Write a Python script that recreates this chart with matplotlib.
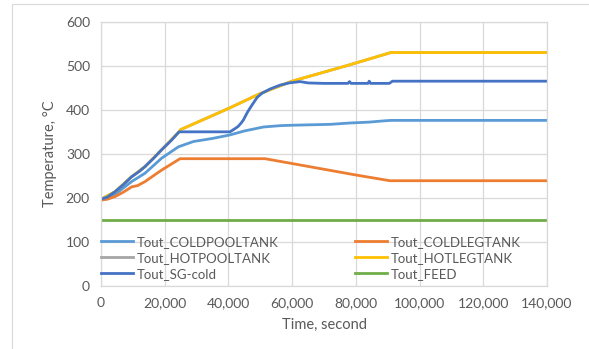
import matplotlib.pyplot as plt
from matplotlib.patches import Rectangle

# time axis in seconds, temperatures in degC
t_coldpool = [0, 4400, 9600, 13800, 19000, 24300, 29000, 35000, 40500, 45000,
              51000, 56200, 60000, 66000, 72000, 78000, 84000, 89000, 91000, 140000]
T_coldpool = [197, 208, 237, 256, 290, 316, 328, 335, 343, 352,
              361, 364, 365, 366, 367, 370, 372, 375, 376, 376]

t_coldleg = [0, 2000, 4400, 7000, 9600, 11500, 13800, 19000, 24800, 51500,
             60000, 70000, 80000, 90700, 140000]
T_coldleg = [195, 197, 203, 213, 225, 228, 237, 263, 289, 289,
             278, 265, 252, 239, 239]

t_sg = [0, 2000, 4400, 7000, 9600, 12000, 13800, 16500, 19000, 22000, 24500,
        40500, 42000, 43000, 44000, 44700, 46000, 47500, 49000, 50400, 53000,
        56200, 59000, 62500, 65000, 70000, 77500, 78000, 78500, 83800, 84200,
        84600, 90500, 91500, 140000]
T_sg = [197, 202, 214, 230, 248, 260, 271, 290, 309, 330, 350,
        350, 357, 362, 370, 377, 395, 412, 428, 437, 447,
        456, 461, 464, 461, 460, 460, 464, 460, 460, 465,
        460, 460, 465, 465]

t_hotleg = [0, 4400, 9600, 13800, 19000, 24500, 25000, 40000, 50000, 60000,
            78000, 91000, 140000]
T_hotleg = [197, 214, 248, 271, 309, 350, 355, 403, 437, 465,
            502, 530, 530]

# hot pool sits under the hot leg curve
t_hotpool = t_hotleg
T_hotpool = T_hotleg

t_feed = [0, 140000]
T_feed = [150, 150]

series = [
    ("Tout_COLDPOOLTANK", t_coldpool, T_coldpool, "#5B9BD5"),
    ("Tout_COLDLEGTANK", t_coldleg, T_coldleg, "#ED7D31"),
    ("Tout_HOTPOOLTANK", t_hotpool, T_hotpool, "#A5A5A5"),
    ("Tout_HOTLEGTANK", t_hotleg, T_hotleg, "#FFC000"),
    ("Tout_SG-cold", t_sg, T_sg, "#4472C4"),
    ("Tout_FEED", t_feed, T_feed, "#70AD47"),
]

plt.rcParams['font.family'] = ['Lato', 'DejaVu Sans']
txt = '#595959'
grid = '#d9d9d9'

fig = plt.figure(figsize=(5.89, 3.49), dpi=100)
ax = fig.add_axes([0.1715, 0.1805, 0.7572, 0.7573])

lines = {}
for name, t, T, c in series:
    lines[name], = ax.plot(t, T, color=c, lw=2.0, label=name,
                           solid_joinstyle='round')

ax.set_xlim(0, 140000)
ax.set_ylim(0, 600)
ax.set_xticks(range(0, 140001, 20000))
ax.set_yticks(range(0, 601, 100))
ax.xaxis.set_major_formatter(plt.FuncFormatter(lambda v, p: f"{int(v):,}"))
ax.grid(True, color=grid, lw=0.9)
ax.set_axisbelow(True)
for s in ax.spines.values():
    s.set_color(grid)
    s.set_linewidth(0.9)
ax.tick_params(length=0, labelsize=10, colors=txt, pad=8)
ax.set_xlabel("Time, second", fontsize=10.5, color=txt, labelpad=6)
ax.set_ylabel("Temperature, \u00b0C", fontsize=10.5, color=txt, labelpad=6)

order = ["Tout_COLDPOOLTANK", "Tout_HOTPOOLTANK", "Tout_SG-cold",
         "Tout_COLDLEGTANK", "Tout_HOTLEGTANK", "Tout_FEED"]
leg = ax.legend([lines[n] for n in order], order, ncol=2, loc='lower left',
                bbox_to_anchor=(-0.012, 0.004), frameon=False, fontsize=9.5,
                handlelength=2.4, handletextpad=0.3, labelspacing=0.3,
                columnspacing=5.8, borderaxespad=0)
for tx in leg.get_texts():
    tx.set_color(txt)

# chart area border
fig.patches.append(Rectangle((12 / 589, -0.1), 1.2, 1 - 4 / 349 + 0.1,
                             transform=fig.transFigure, fill=False,
                             edgecolor='#d9d9d9', lw=0.8))

fig.savefig("out.png", dpi=100)
